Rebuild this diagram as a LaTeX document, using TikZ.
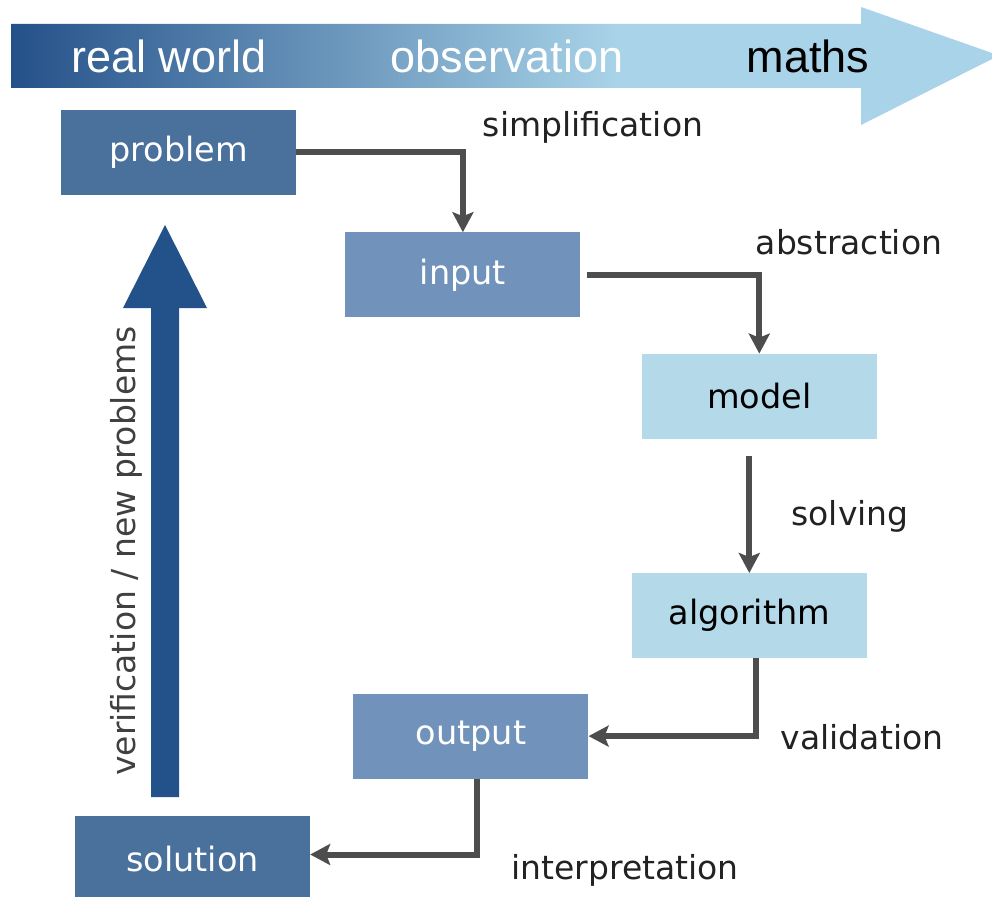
\documentclass[tikz,border=0pt]{standalone}
\usepackage{fontspec}
\setmainfont{DejaVu Sans}
\newfontfamily\bandfont{Liberation Sans}
\usepackage{xcolor}
\usetikzlibrary{arrows.meta, positioning, calc}
\definecolor{darkbox}{HTML}{4A709C}
\definecolor{midbox}{HTML}{7193BB}
\definecolor{lightbox}{HTML}{B4DAEA}
\definecolor{bigarrow}{HTML}{23518A}
\definecolor{bandleft}{HTML}{25518A}
\definecolor{bandright}{HTML}{A8D3E8}
\definecolor{connector}{HTML}{4D4D4D}
\definecolor{labeltext}{HTML}{222222}
\definecolor{sidetext}{HTML}{404040}
\pgfdeclarehorizontalshading{bandshade}{100bp}{color(0bp)=(bandleft); color(25bp)=(bandleft); color(56bp)=(bandright); color(100bp)=(bandright)}

\begin{document}
\begin{tikzpicture}[x=1pt, y=-1pt,
    box/.style={rectangle, minimum width=235pt, minimum height=85pt, inner sep=0pt, font=\fontsize{33.5}{36}\selectfont},
    dark/.style={box, fill=darkbox, text=white},
    medium/.style={box, fill=midbox, text=white},
    light/.style={box, fill=lightbox, text=black},
    conn/.style={draw=connector, line width=6pt, -{Stealth[length=20pt, width=21pt, inset=4pt]}},
    lbl/.style={text=labeltext, font=\fontsize{33}{36}\selectfont, inner sep=0pt, anchor=base},
    band/.style={font=\bandfont\fontsize{45}{48}\selectfont, inner sep=0pt}]
  \useasboundingbox (0,0) rectangle (992,896);
  \clip (0,0) rectangle (992,896);

  % banner
  \shade[shading=bandshade] (11,24) -- (861,24) -- (861,7) -- (992,53) -- (992,59) -- (861,125) -- (861,88) -- (11,88) -- cycle;
  \node[band, text=white] (realworld) at (169,56) {real world};
  \node[band, text=white] (observation) at (507,56) {observation};
  \node[band, text=black] (maths) at (808,56) {maths};

  % boxes
  \node[dark] (problem) at (178.5,152.5) {problem};
  \node[medium, below right=37pt and 49pt of problem] (input) {input};
  \node[light, below right=36pt and 61pt of input] (model) {model};
  \node[light, below=134pt of model, xshift=-10pt] (algorithm) {algorithm};
  \node[medium, below left=35pt and 43pt of algorithm] (output) {output};
  \node[dark, below left=37pt and 43pt of output] (solution) {solution};

  \draw[conn] (problem.east) -| (input.north);
  \draw[conn] ([xshift=6pt]input.east) -| (model.north);
  \draw[conn] ($(model.south -| algorithm.north)+(0,17)$) -- (algorithm.north);
  \draw[conn] ([xshift=7pt]algorithm.south) |- (output.east);
  \draw[conn] ([xshift=6pt]output.south) |- ([yshift=4pt]solution.east);

  \node[lbl] (simp) at (593,137) {simplification};
  \node[lbl] (abstr) at (849,254) {abstraction};
  \node[lbl] (solv) at (850,525) {solving};
  \node[lbl] (valid) at (862,749) {validation};
  \node[lbl] (interp) at (625,879) {interpretation};

  % back to the real world
  \fill[bigarrow] (151,797) -- (151,308) -- (123,308) -- (165,225) -- (207,308) -- (179,308) -- (179,797) -- cycle;
  \node[rotate=90, text=sidetext, font=\fontsize{33}{36}\selectfont, inner sep=0pt] (verif) at (126,551) {verification / new problems};
\end{tikzpicture}
\end{document}
